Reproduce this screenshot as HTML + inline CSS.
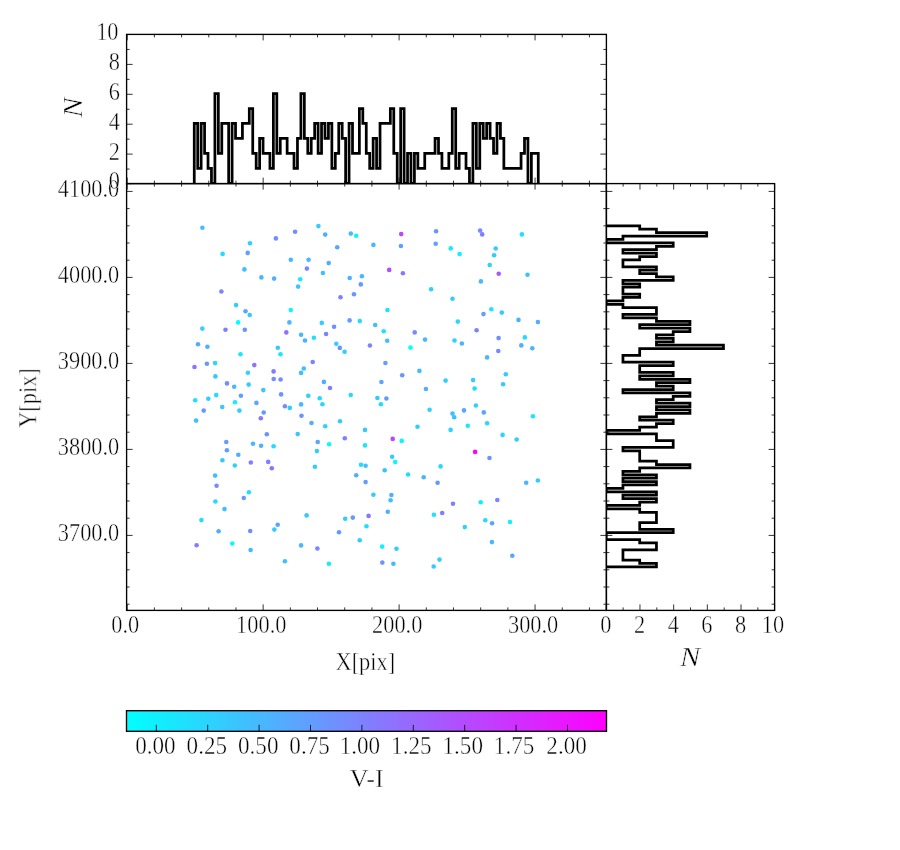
<!DOCTYPE html>
<html><head><meta charset="utf-8"><title>scatter</title>
<style>html,body{margin:0;padding:0;background:#fff}svg{display:block}</style></head>
<body>
<svg width="900" height="850" viewBox="0 0 900 850">
<defs><linearGradient id="cool" x1="0" x2="1" y1="0" y2="0"><stop offset="0" stop-color="#00ffff"/><stop offset="1" stop-color="#ff00ff"/></linearGradient></defs>
<clipPath id="ct"><rect x="126.6" y="34.4" width="479.79999999999995" height="149.2"/></clipPath>
<clipPath id="cr"><rect x="606.4" y="183.6" width="168.20000000000005" height="426.79999999999995"/></clipPath>
<rect width="900" height="850" fill="#fff"/>
<g stroke="none">
<circle cx="202.4" cy="227.7" r="2.3" fill="#40bfff"/>
<circle cx="275.9" cy="238.4" r="2.3" fill="#738cff"/>
<circle cx="250.0" cy="243.2" r="2.3" fill="#2ed1ff"/>
<circle cx="222.6" cy="253.9" r="2.3" fill="#26d9ff"/>
<circle cx="247.7" cy="252.9" r="2.3" fill="#619eff"/>
<circle cx="244.4" cy="269.4" r="2.3" fill="#40bfff"/>
<circle cx="261.4" cy="277.4" r="2.3" fill="#47b8ff"/>
<circle cx="274.1" cy="278.6" r="2.3" fill="#54abff"/>
<circle cx="221.4" cy="291.5" r="2.3" fill="#8080ff"/>
<circle cx="236.1" cy="305.1" r="2.3" fill="#33ccff"/>
<circle cx="318.4" cy="226.1" r="2.3" fill="#33ccff"/>
<circle cx="295.1" cy="231.7" r="2.3" fill="#738cff"/>
<circle cx="325.2" cy="234.6" r="2.3" fill="#52adff"/>
<circle cx="350.8" cy="233.6" r="2.3" fill="#47b8ff"/>
<circle cx="356.2" cy="235.8" r="2.3" fill="#08f7ff"/>
<circle cx="337.2" cy="247.2" r="2.3" fill="#59a6ff"/>
<circle cx="290.8" cy="259.7" r="2.3" fill="#47b8ff"/>
<circle cx="308.6" cy="259.7" r="2.3" fill="#47b8ff"/>
<circle cx="328.7" cy="263.1" r="2.3" fill="#52adff"/>
<circle cx="306.9" cy="268.6" r="2.3" fill="#7a85ff"/>
<circle cx="322.9" cy="273.0" r="2.3" fill="#40bfff"/>
<circle cx="300.2" cy="279.3" r="2.3" fill="#14ebff"/>
<circle cx="298.1" cy="286.6" r="2.3" fill="#38c7ff"/>
<circle cx="349.7" cy="278.0" r="2.3" fill="#4cb2ff"/>
<circle cx="361.9" cy="276.3" r="2.3" fill="#47b8ff"/>
<circle cx="360.8" cy="284.4" r="2.3" fill="#6699ff"/>
<circle cx="354.0" cy="294.3" r="2.3" fill="#6b94ff"/>
<circle cx="340.5" cy="297.2" r="2.3" fill="#8080ff"/>
<circle cx="401.2" cy="234.1" r="2.3" fill="#b847ff"/>
<circle cx="436.1" cy="231.2" r="2.3" fill="#6b94ff"/>
<circle cx="373.4" cy="244.9" r="2.3" fill="#47b8ff"/>
<circle cx="400.9" cy="246.0" r="2.3" fill="#619eff"/>
<circle cx="435.7" cy="243.7" r="2.3" fill="#619eff"/>
<circle cx="450.7" cy="248.4" r="2.3" fill="#14ebff"/>
<circle cx="389.2" cy="269.9" r="2.3" fill="#b24dff"/>
<circle cx="402.9" cy="273.3" r="2.3" fill="#857aff"/>
<circle cx="431.1" cy="289.3" r="2.3" fill="#2ed1ff"/>
<circle cx="452.5" cy="298.8" r="2.3" fill="#38c7ff"/>
<circle cx="480.1" cy="230.6" r="2.3" fill="#738cff"/>
<circle cx="482.2" cy="234.4" r="2.3" fill="#857aff"/>
<circle cx="521.9" cy="234.4" r="2.3" fill="#1fe0ff"/>
<circle cx="495.7" cy="248.5" r="2.3" fill="#33ccff"/>
<circle cx="459.6" cy="254.1" r="2.3" fill="#0df2ff"/>
<circle cx="494.1" cy="255.2" r="2.3" fill="#38c7ff"/>
<circle cx="489.7" cy="265.0" r="2.3" fill="#2ed1ff"/>
<circle cx="498.7" cy="273.8" r="2.3" fill="#a659ff"/>
<circle cx="527.5" cy="274.7" r="2.3" fill="#40bfff"/>
<circle cx="480.9" cy="281.4" r="2.3" fill="#45baff"/>
<circle cx="245.5" cy="311.3" r="2.3" fill="#59a6ff"/>
<circle cx="249.7" cy="315.0" r="2.3" fill="#38c7ff"/>
<circle cx="238.1" cy="322.4" r="2.3" fill="#00ffff"/>
<circle cx="202.3" cy="328.6" r="2.3" fill="#2ed1ff"/>
<circle cx="225.5" cy="329.7" r="2.3" fill="#8080ff"/>
<circle cx="244.8" cy="329.7" r="2.3" fill="#6b94ff"/>
<circle cx="198.0" cy="344.2" r="2.3" fill="#52adff"/>
<circle cx="207.4" cy="346.8" r="2.3" fill="#4cb2ff"/>
<circle cx="240.5" cy="354.2" r="2.3" fill="#1ae6ff"/>
<circle cx="206.9" cy="363.8" r="2.3" fill="#6699ff"/>
<circle cx="215.1" cy="363.1" r="2.3" fill="#26d9ff"/>
<circle cx="194.5" cy="367.0" r="2.3" fill="#8c73ff"/>
<circle cx="254.3" cy="365.1" r="2.3" fill="#8c73ff"/>
<circle cx="273.6" cy="371.4" r="2.3" fill="#857aff"/>
<circle cx="247.9" cy="372.8" r="2.3" fill="#2ed1ff"/>
<circle cx="215.4" cy="376.4" r="2.3" fill="#38c7ff"/>
<circle cx="273.7" cy="379.0" r="2.3" fill="#738cff"/>
<circle cx="227.0" cy="383.4" r="2.3" fill="#738cff"/>
<circle cx="234.2" cy="386.7" r="2.3" fill="#47b8ff"/>
<circle cx="248.7" cy="384.6" r="2.3" fill="#33ccff"/>
<circle cx="263.3" cy="390.1" r="2.3" fill="#38c7ff"/>
<circle cx="216.2" cy="395.1" r="2.3" fill="#26d9ff"/>
<circle cx="240.9" cy="395.7" r="2.3" fill="#619eff"/>
<circle cx="290.8" cy="310.0" r="2.3" fill="#08f7ff"/>
<circle cx="289.4" cy="322.4" r="2.3" fill="#47b8ff"/>
<circle cx="321.8" cy="322.9" r="2.3" fill="#33ccff"/>
<circle cx="349.6" cy="320.4" r="2.3" fill="#619eff"/>
<circle cx="359.8" cy="321.1" r="2.3" fill="#26d9ff"/>
<circle cx="334.1" cy="326.7" r="2.3" fill="#738cff"/>
<circle cx="286.3" cy="332.4" r="2.3" fill="#8c73ff"/>
<circle cx="301.1" cy="334.7" r="2.3" fill="#47b8ff"/>
<circle cx="326.1" cy="334.0" r="2.3" fill="#8080ff"/>
<circle cx="313.9" cy="337.8" r="2.3" fill="#1fe0ff"/>
<circle cx="305.0" cy="340.5" r="2.3" fill="#4cb2ff"/>
<circle cx="336.3" cy="343.8" r="2.3" fill="#33ccff"/>
<circle cx="339.8" cy="347.9" r="2.3" fill="#6b94ff"/>
<circle cx="344.6" cy="351.8" r="2.3" fill="#33ccff"/>
<circle cx="277.8" cy="347.8" r="2.3" fill="#38c7ff"/>
<circle cx="280.5" cy="354.2" r="2.3" fill="#1ae6ff"/>
<circle cx="312.7" cy="362.0" r="2.3" fill="#8080ff"/>
<circle cx="303.8" cy="368.5" r="2.3" fill="#40bfff"/>
<circle cx="301.1" cy="372.9" r="2.3" fill="#40bfff"/>
<circle cx="280.6" cy="379.5" r="2.3" fill="#738cff"/>
<circle cx="323.9" cy="381.9" r="2.3" fill="#52adff"/>
<circle cx="330.0" cy="388.0" r="2.3" fill="#8080ff"/>
<circle cx="281.1" cy="394.4" r="2.3" fill="#6b94ff"/>
<circle cx="308.3" cy="395.7" r="2.3" fill="#33ccff"/>
<circle cx="350.7" cy="395.0" r="2.3" fill="#26d9ff"/>
<circle cx="387.5" cy="310.0" r="2.3" fill="#1fe0ff"/>
<circle cx="375.2" cy="325.0" r="2.3" fill="#40bfff"/>
<circle cx="383.7" cy="331.3" r="2.3" fill="#1fe0ff"/>
<circle cx="414.7" cy="332.4" r="2.3" fill="#738cff"/>
<circle cx="387.2" cy="340.7" r="2.3" fill="#40bfff"/>
<circle cx="425.0" cy="339.6" r="2.3" fill="#47b8ff"/>
<circle cx="369.9" cy="345.5" r="2.3" fill="#7a85ff"/>
<circle cx="410.5" cy="347.6" r="2.3" fill="#00ffff"/>
<circle cx="385.4" cy="363.0" r="2.3" fill="#619eff"/>
<circle cx="419.4" cy="370.9" r="2.3" fill="#40bfff"/>
<circle cx="402.2" cy="375.3" r="2.3" fill="#6b94ff"/>
<circle cx="381.4" cy="382.0" r="2.3" fill="#59a6ff"/>
<circle cx="445.6" cy="380.6" r="2.3" fill="#33ccff"/>
<circle cx="425.9" cy="389.0" r="2.3" fill="#52adff"/>
<circle cx="491.3" cy="309.3" r="2.3" fill="#1ae6ff"/>
<circle cx="483.5" cy="314.1" r="2.3" fill="#619eff"/>
<circle cx="501.8" cy="312.6" r="2.3" fill="#33ccff"/>
<circle cx="457.8" cy="321.6" r="2.3" fill="#26d9ff"/>
<circle cx="518.5" cy="319.9" r="2.3" fill="#4cb2ff"/>
<circle cx="537.9" cy="322.1" r="2.3" fill="#52adff"/>
<circle cx="476.6" cy="330.3" r="2.3" fill="#8080ff"/>
<circle cx="498.6" cy="338.1" r="2.3" fill="#738cff"/>
<circle cx="524.8" cy="337.4" r="2.3" fill="#26d9ff"/>
<circle cx="454.5" cy="340.5" r="2.3" fill="#2ed1ff"/>
<circle cx="461.9" cy="343.5" r="2.3" fill="#4cb2ff"/>
<circle cx="521.3" cy="345.4" r="2.3" fill="#52adff"/>
<circle cx="532.3" cy="348.3" r="2.3" fill="#4cb2ff"/>
<circle cx="498.3" cy="351.0" r="2.3" fill="#738cff"/>
<circle cx="487.1" cy="357.4" r="2.3" fill="#47b8ff"/>
<circle cx="505.8" cy="374.3" r="2.3" fill="#38c7ff"/>
<circle cx="473.1" cy="380.1" r="2.3" fill="#33ccff"/>
<circle cx="503.1" cy="384.2" r="2.3" fill="#38c7ff"/>
<circle cx="474.6" cy="388.5" r="2.3" fill="#26d9ff"/>
<circle cx="195.2" cy="400.3" r="2.3" fill="#1fe0ff"/>
<circle cx="208.3" cy="398.8" r="2.3" fill="#33ccff"/>
<circle cx="235.0" cy="402.3" r="2.3" fill="#12edff"/>
<circle cx="256.4" cy="402.9" r="2.3" fill="#59a6ff"/>
<circle cx="222.2" cy="407.0" r="2.3" fill="#38c7ff"/>
<circle cx="203.7" cy="410.6" r="2.3" fill="#6b94ff"/>
<circle cx="239.4" cy="410.6" r="2.3" fill="#33ccff"/>
<circle cx="263.7" cy="412.5" r="2.3" fill="#6699ff"/>
<circle cx="260.8" cy="418.2" r="2.3" fill="#8c73ff"/>
<circle cx="196.1" cy="420.6" r="2.3" fill="#40bfff"/>
<circle cx="266.8" cy="434.3" r="2.3" fill="#6b94ff"/>
<circle cx="226.3" cy="442.0" r="2.3" fill="#619eff"/>
<circle cx="253.0" cy="443.7" r="2.3" fill="#47b8ff"/>
<circle cx="261.1" cy="445.8" r="2.3" fill="#4cb2ff"/>
<circle cx="273.6" cy="446.3" r="2.3" fill="#26d9ff"/>
<circle cx="226.9" cy="450.3" r="2.3" fill="#619eff"/>
<circle cx="238.3" cy="454.7" r="2.3" fill="#52adff"/>
<circle cx="222.4" cy="460.3" r="2.3" fill="#38c7ff"/>
<circle cx="250.8" cy="462.5" r="2.3" fill="#8080ff"/>
<circle cx="268.2" cy="461.9" r="2.3" fill="#8080ff"/>
<circle cx="234.8" cy="465.5" r="2.3" fill="#2ed1ff"/>
<circle cx="271.8" cy="468.2" r="2.3" fill="#8c73ff"/>
<circle cx="215.1" cy="475.6" r="2.3" fill="#40bfff"/>
<circle cx="319.7" cy="398.2" r="2.3" fill="#26d9ff"/>
<circle cx="284.9" cy="406.3" r="2.3" fill="#738cff"/>
<circle cx="289.8" cy="407.9" r="2.3" fill="#33ccff"/>
<circle cx="301.1" cy="404.4" r="2.3" fill="#47b8ff"/>
<circle cx="322.4" cy="404.2" r="2.3" fill="#2ed1ff"/>
<circle cx="301.5" cy="415.7" r="2.3" fill="#6b94ff"/>
<circle cx="311.5" cy="423.0" r="2.3" fill="#52adff"/>
<circle cx="340.0" cy="421.2" r="2.3" fill="#33ccff"/>
<circle cx="325.2" cy="426.2" r="2.3" fill="#2ed1ff"/>
<circle cx="365.0" cy="429.9" r="2.3" fill="#38c7ff"/>
<circle cx="297.7" cy="434.1" r="2.3" fill="#38c7ff"/>
<circle cx="344.8" cy="438.2" r="2.3" fill="#8080ff"/>
<circle cx="317.7" cy="442.0" r="2.3" fill="#59a6ff"/>
<circle cx="329.1" cy="444.3" r="2.3" fill="#05faff"/>
<circle cx="365.0" cy="445.4" r="2.3" fill="#1ae6ff"/>
<circle cx="316.9" cy="451.1" r="2.3" fill="#33ccff"/>
<circle cx="361.0" cy="464.8" r="2.3" fill="#26d9ff"/>
<circle cx="365.6" cy="465.8" r="2.3" fill="#40bfff"/>
<circle cx="314.9" cy="466.8" r="2.3" fill="#33ccff"/>
<circle cx="356.2" cy="475.3" r="2.3" fill="#52adff"/>
<circle cx="365.6" cy="482.1" r="2.3" fill="#619eff"/>
<circle cx="377.4" cy="398.0" r="2.3" fill="#38c7ff"/>
<circle cx="386.4" cy="398.5" r="2.3" fill="#6699ff"/>
<circle cx="380.9" cy="404.2" r="2.3" fill="#26d9ff"/>
<circle cx="429.6" cy="409.7" r="2.3" fill="#2ed1ff"/>
<circle cx="452.5" cy="413.6" r="2.3" fill="#40bfff"/>
<circle cx="454.2" cy="417.2" r="2.3" fill="#40bfff"/>
<circle cx="417.5" cy="426.8" r="2.3" fill="#33ccff"/>
<circle cx="450.6" cy="429.9" r="2.3" fill="#2ed1ff"/>
<circle cx="392.7" cy="438.9" r="2.3" fill="#b847ff"/>
<circle cx="401.7" cy="440.9" r="2.3" fill="#08f7ff"/>
<circle cx="392.1" cy="456.7" r="2.3" fill="#33ccff"/>
<circle cx="395.2" cy="462.0" r="2.3" fill="#08f7ff"/>
<circle cx="440.6" cy="466.4" r="2.3" fill="#26d9ff"/>
<circle cx="384.7" cy="470.3" r="2.3" fill="#40bfff"/>
<circle cx="408.1" cy="474.5" r="2.3" fill="#26d9ff"/>
<circle cx="423.7" cy="477.2" r="2.3" fill="#47b8ff"/>
<circle cx="437.6" cy="482.7" r="2.3" fill="#6b94ff"/>
<circle cx="475.9" cy="405.5" r="2.3" fill="#2ed1ff"/>
<circle cx="464.0" cy="410.4" r="2.3" fill="#59a6ff"/>
<circle cx="483.8" cy="412.4" r="2.3" fill="#59a6ff"/>
<circle cx="532.9" cy="416.3" r="2.3" fill="#1ae6ff"/>
<circle cx="467.8" cy="425.8" r="2.3" fill="#1ae6ff"/>
<circle cx="487.1" cy="423.3" r="2.3" fill="#26d9ff"/>
<circle cx="502.6" cy="434.9" r="2.3" fill="#2ed1ff"/>
<circle cx="516.7" cy="439.5" r="2.3" fill="#33ccff"/>
<circle cx="475.1" cy="451.9" r="2.3" fill="#ff00ff"/>
<circle cx="489.5" cy="458.0" r="2.3" fill="#6b94ff"/>
<circle cx="526.2" cy="482.7" r="2.3" fill="#47b8ff"/>
<circle cx="537.9" cy="480.5" r="2.3" fill="#33ccff"/>
<circle cx="216.6" cy="485.7" r="2.3" fill="#738cff"/>
<circle cx="248.9" cy="492.2" r="2.3" fill="#1fe0ff"/>
<circle cx="243.8" cy="498.0" r="2.3" fill="#6699ff"/>
<circle cx="215.4" cy="501.5" r="2.3" fill="#26d9ff"/>
<circle cx="224.5" cy="509.1" r="2.3" fill="#40bfff"/>
<circle cx="201.4" cy="520.1" r="2.3" fill="#1fe0ff"/>
<circle cx="277.7" cy="524.8" r="2.3" fill="#59a6ff"/>
<circle cx="274.3" cy="529.6" r="2.3" fill="#33ccff"/>
<circle cx="218.6" cy="531.3" r="2.3" fill="#52adff"/>
<circle cx="250.2" cy="531.0" r="2.3" fill="#738cff"/>
<circle cx="196.6" cy="545.2" r="2.3" fill="#8080ff"/>
<circle cx="232.3" cy="543.5" r="2.3" fill="#05faff"/>
<circle cx="250.6" cy="550.0" r="2.3" fill="#47b8ff"/>
<circle cx="306.6" cy="515.4" r="2.3" fill="#38c7ff"/>
<circle cx="345.2" cy="518.8" r="2.3" fill="#33ccff"/>
<circle cx="352.8" cy="517.6" r="2.3" fill="#6699ff"/>
<circle cx="366.5" cy="526.2" r="2.3" fill="#21deff"/>
<circle cx="339.0" cy="532.3" r="2.3" fill="#6699ff"/>
<circle cx="359.7" cy="540.2" r="2.3" fill="#33ccff"/>
<circle cx="301.1" cy="545.4" r="2.3" fill="#47b8ff"/>
<circle cx="317.4" cy="548.5" r="2.3" fill="#7a85ff"/>
<circle cx="284.9" cy="561.2" r="2.3" fill="#40bfff"/>
<circle cx="328.9" cy="563.7" r="2.3" fill="#14ebff"/>
<circle cx="373.4" cy="494.8" r="2.3" fill="#33ccff"/>
<circle cx="391.4" cy="495.0" r="2.3" fill="#4cb2ff"/>
<circle cx="390.6" cy="500.2" r="2.3" fill="#40bfff"/>
<circle cx="453.0" cy="503.7" r="2.3" fill="#8080ff"/>
<circle cx="387.8" cy="511.8" r="2.3" fill="#52adff"/>
<circle cx="368.6" cy="515.9" r="2.3" fill="#857aff"/>
<circle cx="433.9" cy="514.7" r="2.3" fill="#1fe0ff"/>
<circle cx="442.2" cy="513.0" r="2.3" fill="#857aff"/>
<circle cx="382.2" cy="546.6" r="2.3" fill="#0df2ff"/>
<circle cx="396.5" cy="548.7" r="2.3" fill="#33ccff"/>
<circle cx="439.5" cy="559.6" r="2.3" fill="#33ccff"/>
<circle cx="382.3" cy="562.6" r="2.3" fill="#6b94ff"/>
<circle cx="393.4" cy="563.8" r="2.3" fill="#47b8ff"/>
<circle cx="433.7" cy="566.5" r="2.3" fill="#33ccff"/>
<circle cx="480.7" cy="502.3" r="2.3" fill="#12edff"/>
<circle cx="497.3" cy="500.0" r="2.3" fill="#7a85ff"/>
<circle cx="485.3" cy="520.2" r="2.3" fill="#26d9ff"/>
<circle cx="492.1" cy="523.3" r="2.3" fill="#59a6ff"/>
<circle cx="510.0" cy="522.0" r="2.3" fill="#0df2ff"/>
<circle cx="464.8" cy="527.1" r="2.3" fill="#2ed1ff"/>
<circle cx="491.9" cy="542.1" r="2.3" fill="#47b8ff"/>
<circle cx="512.3" cy="555.8" r="2.3" fill="#59a6ff"/>
</g>
<path clip-path="url(#ct)" d="M194.26,183.40L194.26,123.48L197.70,123.48L197.70,168.42L201.14,168.42L201.14,123.48L204.58,123.48L204.58,153.44L208.02,153.44L208.02,168.42L211.46,168.42L211.46,183.40L214.90,183.40L214.90,93.52L218.34,93.52L218.34,153.44L221.78,153.44L221.78,123.48L225.22,123.48L225.22,123.48L228.66,123.48L228.66,183.40L232.10,183.40L232.10,123.48L235.54,123.48L235.54,138.46L238.98,138.46L238.98,138.46L242.42,138.46L242.42,123.48L245.86,123.48L245.86,123.48L249.30,123.48L249.30,108.50L252.74,108.50L252.74,153.44L256.18,153.44L256.18,168.42L259.62,168.42L259.62,138.46L263.06,138.46L263.06,153.44L266.50,153.44L266.50,153.44L269.94,153.44L269.94,168.42L273.38,168.42L273.38,93.52L276.82,93.52L276.82,153.44L280.26,153.44L280.26,138.46L283.70,138.46L283.70,138.46L287.14,138.46L287.14,153.44L290.58,153.44L290.58,153.44L294.02,153.44L294.02,168.42L297.46,168.42L297.46,138.46L300.90,138.46L300.90,93.52L304.34,93.52L304.34,138.46L307.78,138.46L307.78,153.44L311.22,153.44L311.22,138.46L314.66,138.46L314.66,123.48L318.10,123.48L318.10,153.44L321.54,153.44L321.54,123.48L324.98,123.48L324.98,138.46L328.42,138.46L328.42,123.48L331.86,123.48L331.86,168.42L335.30,168.42L335.30,153.44L338.74,153.44L338.74,123.48L342.18,123.48L342.18,138.46L345.62,138.46L345.62,183.40L349.06,183.40L349.06,123.48L352.50,123.48L352.50,153.44L355.94,153.44L355.94,153.44L359.38,153.44L359.38,108.50L362.82,108.50L362.82,123.48L366.26,123.48L366.26,153.44L369.70,153.44L369.70,168.42L373.14,168.42L373.14,138.46L376.58,138.46L376.58,168.42L380.02,168.42L380.02,123.48L383.46,123.48L383.46,123.48L386.90,123.48L386.90,123.48L390.34,123.48L390.34,108.50L393.78,108.50L393.78,153.44L397.22,153.44L397.22,183.40L400.66,183.40L400.66,108.50L404.10,108.50L404.10,183.40L407.54,183.40L407.54,153.44L410.98,153.44L410.98,183.40L414.42,183.40L414.42,153.44L417.86,153.44L417.86,168.42L421.30,168.42L421.30,168.42L424.74,168.42L424.74,153.44L428.18,153.44L428.18,153.44L431.62,153.44L431.62,153.44L435.06,153.44L435.06,138.46L438.50,138.46L438.50,153.44L441.94,153.44L441.94,168.42L445.38,168.42L445.38,168.42L448.82,168.42L448.82,153.44L452.26,153.44L452.26,108.50L455.70,108.50L455.70,168.42L459.14,168.42L459.14,153.44L462.58,153.44L462.58,153.44L466.02,153.44L466.02,168.42L469.46,168.42L469.46,183.40L472.90,183.40L472.90,123.48L476.34,123.48L476.34,168.42L479.78,168.42L479.78,123.48L483.22,123.48L483.22,138.46L486.66,138.46L486.66,123.48L490.10,123.48L490.10,138.46L493.54,138.46L493.54,153.44L496.98,153.44L496.98,123.48L500.42,123.48L500.42,138.46L503.86,138.46L503.86,168.42L507.30,168.42L507.30,168.42L510.74,168.42L510.74,168.42L514.18,168.42L514.18,168.42L517.62,168.42L517.62,168.42L521.06,168.42L521.06,153.44L524.50,153.44L524.50,138.46L527.94,138.46L527.94,183.40L531.38,183.40L531.38,153.44L534.82,153.44L534.82,153.44L538.26,153.44L538.26,183.40" fill="none" stroke="#000" stroke-width="2.75" stroke-linejoin="miter"/>
<path clip-path="url(#cr)" d="M606.20,225.83L639.70,225.83L639.70,229.24L656.45,229.24L656.45,232.65L706.70,232.65L706.70,236.06L622.95,236.06L622.95,239.47L606.20,239.47L606.20,242.88L673.20,242.88L673.20,246.29L656.45,246.29L656.45,249.70L622.95,249.70L622.95,253.11L656.45,253.11L656.45,256.52L639.70,256.52L639.70,259.93L622.95,259.93L622.95,263.34L622.95,263.34L622.95,266.75L656.45,266.75L656.45,270.16L639.70,270.16L639.70,273.57L656.45,273.57L656.45,276.98L673.20,276.98L673.20,280.39L622.95,280.39L622.95,283.80L639.70,283.80L639.70,287.21L622.95,287.21L622.95,290.62L622.95,290.62L622.95,294.03L639.70,294.03L639.70,297.44L622.95,297.44L622.95,300.85L606.20,300.85L606.20,304.26L622.95,304.26L622.95,307.67L656.45,307.67L656.45,311.08L656.45,311.08L656.45,314.49L622.95,314.49L622.95,317.90L656.45,317.90L656.45,321.31L689.95,321.31L689.95,324.72L639.70,324.72L639.70,328.13L689.95,328.13L689.95,331.54L673.20,331.54L673.20,334.95L656.45,334.95L656.45,338.36L673.20,338.36L673.20,341.77L656.45,341.77L656.45,345.18L723.45,345.18L723.45,348.59L639.70,348.59L639.70,352.00L639.70,352.00L639.70,355.41L622.95,355.41L622.95,358.82L622.95,358.82L622.95,362.23L673.20,362.23L673.20,365.64L639.70,365.64L639.70,369.05L639.70,369.05L639.70,372.46L673.20,372.46L673.20,375.87L639.70,375.87L639.70,379.28L689.95,379.28L689.95,382.69L656.45,382.69L656.45,386.10L673.20,386.10L673.20,389.51L622.95,389.51L622.95,392.92L689.95,392.92L689.95,396.33L673.20,396.33L673.20,399.74L656.45,399.74L656.45,403.15L689.95,403.15L689.95,406.56L656.45,406.56L656.45,409.97L689.95,409.97L689.95,413.38L656.45,413.38L656.45,416.79L639.70,416.79L639.70,420.20L673.20,420.20L673.20,423.61L656.45,423.61L656.45,427.02L639.70,427.02L639.70,430.43L606.20,430.43L606.20,433.84L656.45,433.84L656.45,437.25L656.45,437.25L656.45,440.66L673.20,440.66L673.20,444.07L673.20,444.07L673.20,447.48L622.95,447.48L622.95,450.89L639.70,450.89L639.70,454.30L639.70,454.30L639.70,457.71L639.70,457.71L639.70,461.12L656.45,461.12L656.45,464.53L689.95,464.53L689.95,467.94L639.70,467.94L639.70,471.35L622.95,471.35L622.95,474.76L656.45,474.76L656.45,478.17L622.95,478.17L622.95,481.58L656.45,481.58L656.45,484.99L622.95,484.99L622.95,488.40L606.20,488.40L606.20,491.81L656.45,491.81L656.45,495.22L622.95,495.22L622.95,498.63L656.45,498.63L656.45,502.04L639.70,502.04L639.70,505.45L606.20,505.45L606.20,508.86L639.70,508.86L639.70,512.27L656.45,512.27L656.45,515.68L656.45,515.68L656.45,519.09L656.45,519.09L656.45,522.50L639.70,522.50L639.70,525.91L639.70,525.91L639.70,529.32L673.20,529.32L673.20,532.73L606.20,532.73L606.20,536.14L606.20,536.14L606.20,539.55L639.70,539.55L639.70,542.96L656.45,542.96L656.45,546.37L656.45,546.37L656.45,549.78L622.95,549.78L622.95,553.19L622.95,553.19L622.95,556.60L622.95,556.60L622.95,560.01L639.70,560.01L639.70,563.42L656.45,563.42L656.45,566.83L606.20,566.83" fill="none" stroke="#000" stroke-width="2.75" stroke-linejoin="miter"/>
<path d="M127.20,610.40v-6.00M127.20,183.60v6.00M127.20,183.60v-6.00M127.20,34.40v6.00M154.39,610.40v-3.00M154.39,183.60v3.00M154.39,183.60v-3.00M154.39,34.40v3.00M181.58,610.40v-3.00M181.58,183.60v3.00M181.58,183.60v-3.00M181.58,34.40v3.00M208.77,610.40v-3.00M208.77,183.60v3.00M208.77,183.60v-3.00M208.77,34.40v3.00M235.96,610.40v-3.00M235.96,183.60v3.00M235.96,183.60v-3.00M235.96,34.40v3.00M263.15,610.40v-6.00M263.15,183.60v6.00M263.15,183.60v-6.00M263.15,34.40v6.00M290.34,610.40v-3.00M290.34,183.60v3.00M290.34,183.60v-3.00M290.34,34.40v3.00M317.53,610.40v-3.00M317.53,183.60v3.00M317.53,183.60v-3.00M317.53,34.40v3.00M344.72,610.40v-3.00M344.72,183.60v3.00M344.72,183.60v-3.00M344.72,34.40v3.00M371.91,610.40v-3.00M371.91,183.60v3.00M371.91,183.60v-3.00M371.91,34.40v3.00M399.10,610.40v-6.00M399.10,183.60v6.00M399.10,183.60v-6.00M399.10,34.40v6.00M426.29,610.40v-3.00M426.29,183.60v3.00M426.29,183.60v-3.00M426.29,34.40v3.00M453.48,610.40v-3.00M453.48,183.60v3.00M453.48,183.60v-3.00M453.48,34.40v3.00M480.67,610.40v-3.00M480.67,183.60v3.00M480.67,183.60v-3.00M480.67,34.40v3.00M507.86,610.40v-3.00M507.86,183.60v3.00M507.86,183.60v-3.00M507.86,34.40v3.00M535.05,610.40v-6.00M535.05,183.60v6.00M535.05,183.60v-6.00M535.05,34.40v6.00M562.24,610.40v-3.00M562.24,183.60v3.00M562.24,183.60v-3.00M562.24,34.40v3.00M589.43,610.40v-3.00M589.43,183.60v3.00M589.43,183.60v-3.00M589.43,34.40v3.00M126.60,604.20h3.00M606.40,604.20h-3.00M606.40,604.20h3.00M774.60,604.20h-3.00M126.60,587.00h3.00M606.40,587.00h-3.00M606.40,587.00h3.00M774.60,587.00h-3.00M126.60,569.80h3.00M606.40,569.80h-3.00M606.40,569.80h3.00M774.60,569.80h-3.00M126.60,552.60h3.00M606.40,552.60h-3.00M606.40,552.60h3.00M774.60,552.60h-3.00M126.60,535.40h6.00M606.40,535.40h-6.00M606.40,535.40h6.00M774.60,535.40h-6.00M126.60,518.20h3.00M606.40,518.20h-3.00M606.40,518.20h3.00M774.60,518.20h-3.00M126.60,501.00h3.00M606.40,501.00h-3.00M606.40,501.00h3.00M774.60,501.00h-3.00M126.60,483.80h3.00M606.40,483.80h-3.00M606.40,483.80h3.00M774.60,483.80h-3.00M126.60,466.60h3.00M606.40,466.60h-3.00M606.40,466.60h3.00M774.60,466.60h-3.00M126.60,449.40h6.00M606.40,449.40h-6.00M606.40,449.40h6.00M774.60,449.40h-6.00M126.60,432.20h3.00M606.40,432.20h-3.00M606.40,432.20h3.00M774.60,432.20h-3.00M126.60,415.00h3.00M606.40,415.00h-3.00M606.40,415.00h3.00M774.60,415.00h-3.00M126.60,397.80h3.00M606.40,397.80h-3.00M606.40,397.80h3.00M774.60,397.80h-3.00M126.60,380.60h3.00M606.40,380.60h-3.00M606.40,380.60h3.00M774.60,380.60h-3.00M126.60,363.40h6.00M606.40,363.40h-6.00M606.40,363.40h6.00M774.60,363.40h-6.00M126.60,346.20h3.00M606.40,346.20h-3.00M606.40,346.20h3.00M774.60,346.20h-3.00M126.60,329.00h3.00M606.40,329.00h-3.00M606.40,329.00h3.00M774.60,329.00h-3.00M126.60,311.80h3.00M606.40,311.80h-3.00M606.40,311.80h3.00M774.60,311.80h-3.00M126.60,294.60h3.00M606.40,294.60h-3.00M606.40,294.60h3.00M774.60,294.60h-3.00M126.60,277.40h6.00M606.40,277.40h-6.00M606.40,277.40h6.00M774.60,277.40h-6.00M126.60,260.20h3.00M606.40,260.20h-3.00M606.40,260.20h3.00M774.60,260.20h-3.00M126.60,243.00h3.00M606.40,243.00h-3.00M606.40,243.00h3.00M774.60,243.00h-3.00M126.60,225.80h3.00M606.40,225.80h-3.00M606.40,225.80h3.00M774.60,225.80h-3.00M126.60,208.60h3.00M606.40,208.60h-3.00M606.40,208.60h3.00M774.60,208.60h-3.00M126.60,191.40h6.00M606.40,191.40h-6.00M606.40,191.40h6.00M774.60,191.40h-6.00M126.60,183.60h6.00M606.40,183.60h-6.00M126.60,169.05h3.00M606.40,169.05h-3.00M126.60,154.10h6.00M606.40,154.10h-6.00M126.60,139.15h3.00M606.40,139.15h-3.00M126.60,124.20h6.00M606.40,124.20h-6.00M126.60,109.25h3.00M606.40,109.25h-3.00M126.60,94.30h6.00M606.40,94.30h-6.00M126.60,79.35h3.00M606.40,79.35h-3.00M126.60,64.40h6.00M606.40,64.40h-6.00M126.60,49.45h3.00M606.40,49.45h-3.00M126.60,34.50h6.00M606.40,34.50h-6.00M606.30,610.40v-6.00M606.30,183.60v6.00M623.14,610.40v-3.00M623.14,183.60v3.00M639.98,610.40v-6.00M639.98,183.60v6.00M656.82,610.40v-3.00M656.82,183.60v3.00M673.66,610.40v-6.00M673.66,183.60v6.00M690.50,610.40v-3.00M690.50,183.60v3.00M707.34,610.40v-6.00M707.34,183.60v6.00M724.18,610.40v-3.00M724.18,183.60v3.00M741.02,610.40v-6.00M741.02,183.60v6.00M757.86,610.40v-3.00M757.86,183.60v3.00M774.60,610.40v-6.00M774.60,183.60v6.00M156.30,731.30v-6.50M207.70,731.30v-6.50M259.10,731.30v-6.50M310.50,731.30v-6.50M361.90,731.30v-6.50M413.30,731.30v-6.50M464.70,731.30v-6.50M516.10,731.30v-6.50M567.50,731.30v-6.50" stroke="#000" stroke-width="0.8" fill="none"/>
<rect x="126.5" y="710.7" width="480.0" height="20.59999999999991" fill="url(#cool)" stroke="#000" stroke-width="1.35"/>
<path d="M156.30,731.3v-6.5M207.70,731.3v-6.5M259.10,731.3v-6.5M310.50,731.3v-6.5M361.90,731.3v-6.5M413.30,731.3v-6.5M464.70,731.3v-6.5M516.10,731.3v-6.5M567.50,731.3v-6.5" stroke="#000" stroke-width="0.8"/>
<g fill="none" stroke="#000" stroke-width="1.35" stroke-linecap="square">
<rect x="126.6" y="183.6" width="479.79999999999995" height="426.79999999999995"/>
<rect x="126.6" y="34.4" width="479.79999999999995" height="149.2"/>
<rect x="606.4" y="183.6" width="168.20000000000005" height="426.79999999999995"/>
</g>
<g font-family="'Liberation Serif', serif" fill="#000" stroke="#fff" stroke-width="0.45" opacity="0.999" style="paint-order:fill stroke">
<text transform="translate(125.30,633.00) scale(0.86,1)" text-anchor="middle" font-size="26">0.0</text>
<text transform="translate(261.25,633.00) scale(0.86,1)" text-anchor="middle" font-size="26">100.0</text>
<text transform="translate(397.20,633.00) scale(0.86,1)" text-anchor="middle" font-size="26">200.0</text>
<text transform="translate(533.15,633.00) scale(0.86,1)" text-anchor="middle" font-size="26">300.0</text>
<text transform="translate(119.30,541.40) scale(0.86,1)" text-anchor="end" font-size="26">3700.0</text>
<text transform="translate(119.30,455.40) scale(0.86,1)" text-anchor="end" font-size="26">3800.0</text>
<text transform="translate(119.30,369.40) scale(0.86,1)" text-anchor="end" font-size="26">3900.0</text>
<text transform="translate(119.30,283.40) scale(0.86,1)" text-anchor="end" font-size="26">4000.0</text>
<text transform="translate(119.30,197.40) scale(0.86,1)" text-anchor="end" font-size="26">4100.0</text>
<text transform="translate(120.00,189.40) scale(0.86,1)" text-anchor="end" font-size="26">0</text>
<text transform="translate(120.00,159.90) scale(0.86,1)" text-anchor="end" font-size="26">2</text>
<text transform="translate(120.00,130.00) scale(0.86,1)" text-anchor="end" font-size="26">4</text>
<text transform="translate(120.00,100.10) scale(0.86,1)" text-anchor="end" font-size="26">6</text>
<text transform="translate(120.00,70.20) scale(0.86,1)" text-anchor="end" font-size="26">8</text>
<text transform="translate(118.50,40.30) scale(0.86,1)" text-anchor="end" font-size="26">10</text>
<text transform="translate(605.90,633.00) scale(0.86,1)" text-anchor="middle" font-size="26">0</text>
<text transform="translate(639.58,633.00) scale(0.86,1)" text-anchor="middle" font-size="26">2</text>
<text transform="translate(673.26,633.00) scale(0.86,1)" text-anchor="middle" font-size="26">4</text>
<text transform="translate(706.94,633.00) scale(0.86,1)" text-anchor="middle" font-size="26">6</text>
<text transform="translate(740.62,633.00) scale(0.86,1)" text-anchor="middle" font-size="26">8</text>
<text transform="translate(772.90,633.00) scale(0.86,1)" text-anchor="middle" font-size="26">10</text>
<text transform="translate(155.40,754.00) scale(0.89,1)" text-anchor="middle" font-size="26">0.00</text>
<text transform="translate(206.80,754.00) scale(0.89,1)" text-anchor="middle" font-size="26">0.25</text>
<text transform="translate(258.20,754.00) scale(0.89,1)" text-anchor="middle" font-size="26">0.50</text>
<text transform="translate(309.60,754.00) scale(0.89,1)" text-anchor="middle" font-size="26">0.75</text>
<text transform="translate(359.90,754.00) scale(0.89,1)" text-anchor="middle" font-size="26">1.00</text>
<text transform="translate(411.30,754.00) scale(0.89,1)" text-anchor="middle" font-size="26">1.25</text>
<text transform="translate(462.70,754.00) scale(0.89,1)" text-anchor="middle" font-size="26">1.50</text>
<text transform="translate(514.10,754.00) scale(0.89,1)" text-anchor="middle" font-size="26">1.75</text>
<text transform="translate(566.60,754.00) scale(0.89,1)" text-anchor="middle" font-size="26">2.00</text>
<text transform="translate(366.70,787.00) scale(1.0,1)" text-anchor="middle" font-size="26">V-I</text>
<text transform="translate(365.30,670.00) scale(0.86,1)" text-anchor="middle" font-size="26">X[pix]</text>
<text transform="translate(36.20,398.00) rotate(-90) scale(0.86,1)" text-anchor="middle" font-size="26">Y[pix]</text>
<text transform="translate(690.20,666.00) scale(1.15,1)" text-anchor="middle" font-size="26.5" font-style="italic">N</text>
<text transform="translate(82.20,107.70) rotate(-90) scale(1.15,1)" text-anchor="middle" font-size="26.5" font-style="italic">N</text>
</g>
</svg>
</body></html>
